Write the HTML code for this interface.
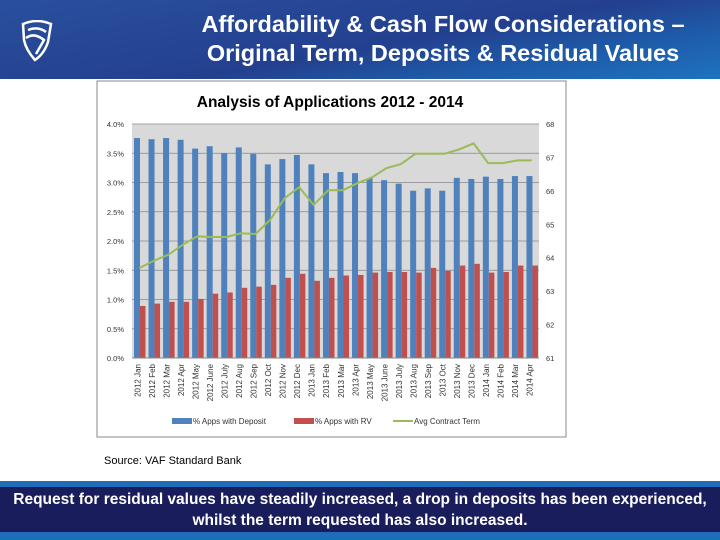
<!DOCTYPE html>
<html><head><meta charset="utf-8"><style>
body{margin:0;width:720px;height:540px;overflow:hidden;background:#fff;font-family:"Liberation Sans",sans-serif;position:relative}
.hdr{position:absolute;left:0;top:0;width:720px;height:79px;background:linear-gradient(170deg,#2a4f9e 0%,#23408f 55%,#1e5aa8 75%,#1d73bf 100%)}
.ttl{position:absolute;left:170px;width:546px;top:10px;text-align:center;color:#fff;font-size:23.5px;font-weight:bold;line-height:29px}
.src{position:absolute;left:104px;top:455px;font-size:11px;color:#000}
.bar1{position:absolute;left:0;top:481px;width:720px;height:59px;background:#1f6cb8}
.bar2{position:absolute;left:0;top:487px;width:720px;height:45px;background:#1a1d5c;color:#fff;font-weight:bold;font-size:15.5px;text-align:center;line-height:21px;padding-top:2px;box-sizing:border-box;font-family:"Liberation Sans Narrow","Liberation Sans",sans-serif}
</style></head><body>
<div class="hdr"></div>
<svg style="position:absolute;left:20px;top:20px" width="34" height="42"><path d="M3 4 Q17 -2 31 4 L28 22 Q24 34 15 40 Q6 30 4 20 Z M8 10 Q18 6 26 12 M6 18 Q14 12 24 20 L16 34" fill="none" stroke="#fff" stroke-width="2.5"/></svg>
<div class="ttl">Affordability &amp; Cash Flow Considerations –<br>Original Term, Deposits &amp; Residual Values</div>
<svg id="ch" style="position:absolute;left:0;top:0" width="720" height="540"></svg>
<div class="src">Source: VAF Standard Bank</div>
<div class="bar1"></div>
<div class="bar2">Request for residual values have steadily increased, a drop in deposits has been experienced,<br>whilst the term requested has also increased.</div>
<script>
const categories=["2012 Jan","2012 Feb","2012 Mar","2012 Apr","2012 May","2012 June","2012 July","2012 Aug","2012 Sep","2012 Oct","2012 Nov","2012 Dec","2013 Jan","2013 Feb","2013 Mar","2013 Apr","2013 May","2013 June","2013 July","2013 Aug","2013 Sep","2013 Oct","2013 Nov","2013 Dec","2014 Jan","2014 Feb","2014 Mar","2014 Apr"];
const deposit=[3.76,3.74,3.76,3.73,3.58,3.62,3.50,3.60,3.49,3.31,3.40,3.47,3.31,3.16,3.18,3.16,3.07,3.04,2.98,2.86,2.90,2.86,3.08,3.06,3.10,3.06,3.11,3.11];
const rv=[0.89,0.93,0.96,0.96,1.01,1.10,1.12,1.20,1.22,1.25,1.37,1.44,1.32,1.37,1.41,1.42,1.46,1.47,1.47,1.46,1.54,1.49,1.58,1.61,1.46,1.47,1.58,1.58];
const term=[63.69,63.91,64.09,64.39,64.64,64.62,64.62,64.73,64.71,65.13,65.78,66.11,65.58,66.02,66.02,66.23,66.40,66.68,66.80,67.11,67.11,67.11,67.24,67.42,66.83,66.83,66.91,66.91];
const leftTicks=["0.0%","0.5%","1.0%","1.5%","2.0%","2.5%","3.0%","3.5%","4.0%"];
const rightTicks=["61","62","63","64","65","66","67","68"];
const svg=document.getElementById('ch');const NS="http://www.w3.org/2000/svg";
const L=132,R=539,T=124,B=358;const bw=(R-L)/categories.length;
const yL=v=>B-(v/4)*(B-T);const yR=v=>B-((v-61)/7)*(B-T);const xB=i=>L+i*bw;
function mk(t,a,p){const e=document.createElementNS(NS,t);for(const k in a)e.setAttribute(k,a[k]);(p||svg).appendChild(e);return e;}
let e=mk('rect',{x:97,y:81,width:469,height:356,fill:'#fff',stroke:'#888','stroke-width':1});

e=mk('rect',{x:L,y:T,width:R-L,height:B-T,fill:'#d9d9d9'});

e=mk('text',{x:330,y:107,'text-anchor':'middle','font-size':15.5,'font-weight':'bold',fill:'#000'});e.textContent='Analysis of Applications 2012 - 2014';

leftTicks.forEach((t,i)=>{const y=yL(i*0.5);
 let g=mk('line',{x1:L,x2:R,y1:y,y2:y,stroke:'#888','stroke-width':0.8});
 
 let tx=mk('text',{x:124,y:y+3,'text-anchor':'end','font-size':7.5,fill:'#333'});tx.textContent=t;
 });
rightTicks.forEach((t,i)=>{const y=yR(61+i);
 let tx=mk('text',{x:546,y:y+3,'font-size':7.5,fill:'#333'});tx.textContent=t;
 });
categories.forEach((c,i)=>{
 let b=mk('rect',{x:xB(i)+2,y:yL(deposit[i]),width:6,height:B-yL(deposit[i]),fill:'#4f81bd'});
 
 let r=mk('rect',{x:xB(i)+8,y:yL(rv[i]),width:5.5,height:B-yL(rv[i]),fill:'#c0504d'});
 
 const cx=xB(i)+bw/2+1;
 let tx=mk('text',{x:cx,y:364,'font-size':8,fill:'#333','text-anchor':'end',transform:`rotate(-90 ${cx} 364)`});tx.textContent=c;
 });
const pts=term.map((v,i)=>`${xB(i)+bw/2},${yR(v)}`).join(' ');
e=mk('polyline',{points:pts,fill:'none',stroke:'#9bbb59','stroke-width':2});

e=mk('line',{x1:L,x2:R,y1:B,y2:B,stroke:'#888'});
const leg=[["% Apps with Deposit","#4f81bd",172,6],["% Apps with RV","#c0504d",294,6],["Avg Contract Term","#9bbb59",393,2]];
leg.forEach(l=>{let g=mk('g',{});
 mk('rect',{x:l[2],y:421-l[3]/2,width:20,height:l[3],fill:l[1]},g);
 let t=mk('text',{x:l[2]+21,y:424,'font-size':8,fill:'#333'},g);t.textContent=l[0];});
</script>
</body></html>
